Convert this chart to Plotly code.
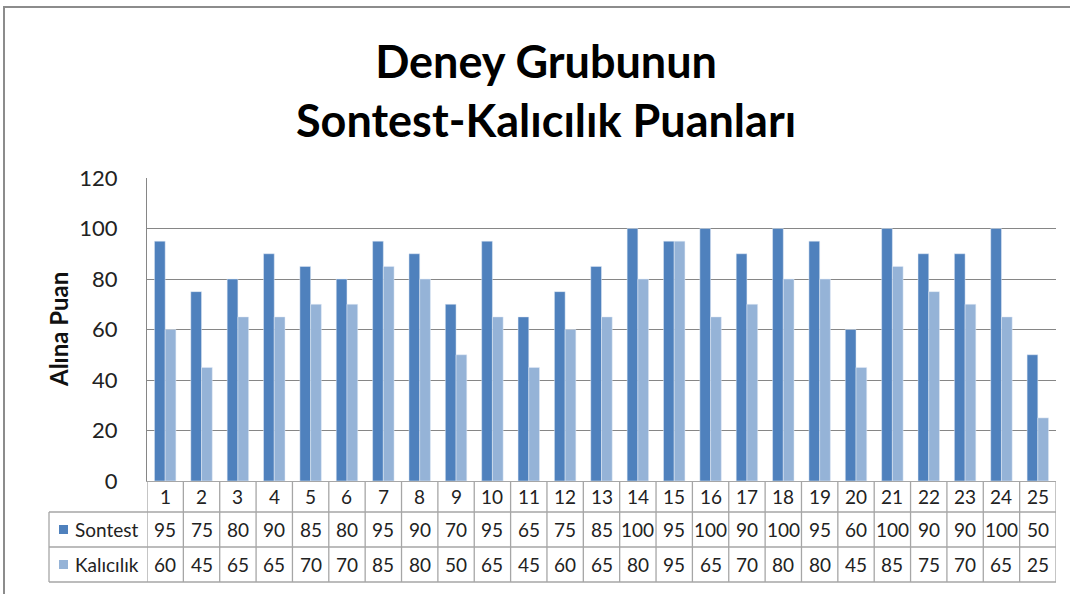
import plotly.graph_objects as go

categories = [str(i) for i in range(1, 26)]
sontest = [95, 75, 80, 90, 85, 80, 95, 90, 70, 95, 65, 75, 85, 100, 95, 100, 90, 100, 95, 60, 100, 90, 90, 100, 50]
kalicilik = [60, 45, 65, 65, 70, 70, 85, 80, 50, 65, 45, 60, 65, 80, 95, 65, 70, 80, 80, 45, 85, 75, 70, 65, 25]
series_names = ["Sontest", "Kalıcılık"]
y_ticks = [0, 20, 40, 60, 80, 100, 120]
title_text = "<b>Deney Grubunun<br>Sontest-Kalıcılık Puanları</b>"
y_title = "<b>Alına Puan</b>"

C1 = "#4F81BD"
C2 = "#95B3D7"
GRID = "#868686"
TBL = "#a6a6a6"
FONT = "Lato"

W, H = 1070, 594
L, R, T, B = 147, 14, 178, 113
PW, PH = W - L - R, H - T - B


def px(x):
    return (x - L) / PW


def py(y):
    return (H - B - y) / PH


fig = go.Figure()
fig.add_trace(go.Bar(x=categories, y=sontest, name=series_names[0], marker_color=C1))
fig.add_trace(go.Bar(x=categories, y=kalicilik, name=series_names[1], marker_color=C2))

shapes = []
annotations = []

row_tops = [py(481), py(512), py(547), py(582)]
# horizontal table lines
for yy in row_tops[1:]:
    shapes.append(dict(type="line", xref="paper", yref="paper", x0=px(49), x1=1, y0=yy, y1=yy,
                       line=dict(color=TBL, width=1.3)))
# left edge of legend column
shapes.append(dict(type="line", xref="paper", yref="paper", x0=px(49), x1=px(49), y0=row_tops[1], y1=row_tops[3],
                   line=dict(color=TBL, width=1.3)))
# vertical cell lines
n = len(categories)
for i in range(n + 1):
    shapes.append(dict(type="line", xref="x", yref="paper", x0=i - 0.5, x1=i - 0.5, y0=0, y1=row_tops[3],
                       line=dict(color=TBL, width=1.3)))

# table content
row_vals = [categories, sontest, kalicilik]
for r, vals in enumerate(row_vals):
    yc = (row_tops[r] + row_tops[r + 1]) / 2
    for i, v in enumerate(vals):
        annotations.append(dict(x=i, y=yc, xref="x", yref="paper", text=str(v), showarrow=False,
                                font=dict(family=FONT, size=19, color="#222"), xanchor="center", yanchor="middle"))

# legend keys in table
for r, (name, col) in enumerate(zip(series_names, [C1, C2])):
    yc = (row_tops[r + 1] + row_tops[r + 2]) / 2
    half = 4.5 / PH
    shapes.append(dict(type="rect", xref="paper", yref="paper", x0=px(59), x1=px(68), y0=yc - half, y1=yc + half,
                       fillcolor=col, line=dict(width=0)))
    annotations.append(dict(x=px(73), y=yc, xref="paper", yref="paper", text=name, showarrow=False,
                            font=dict(family=FONT, size=19, color="#222"), xanchor="left", yanchor="middle"))

# y-axis title
annotations.append(dict(x=px(58), y=py(330), xref="paper", yref="paper", text=y_title, showarrow=False,
                        textangle=-90, font=dict(family=FONT, size=24, color="#111"),
                        xanchor="center", yanchor="middle"))

# chart title
annotations.append(dict(x=px(546), y=py(90), xref="paper", yref="paper", text=title_text, showarrow=False,
                        font=dict(family=FONT, size=45, color="#000"), xanchor="center", yanchor="middle"))

# outer chart border
shapes.append(dict(type="path", xref="paper", yref="paper",
                   path=f"M {px(4)},{py(594)} L {px(4)},{py(7)} L {px(1070)},{py(7)}",
                   line=dict(color="#8c8c8c", width=2)))

fig.update_layout(
    width=W, height=H,
    margin=dict(l=L, r=R, t=T, b=B),
    paper_bgcolor="white", plot_bgcolor="white",
    barmode="group", bargap=0.41, bargroupgap=0,
    showlegend=False,
    shapes=shapes,
    annotations=annotations,
    font=dict(family=FONT),
)
fig.update_xaxes(type="category", showticklabels=False, showgrid=False, showline=True, linecolor=TBL,
                 linewidth=1.3, ticks="", range=[-0.5, n - 0.5])
fig.update_yaxes(range=[0, 120], tickvals=y_ticks, showgrid=True, gridcolor=GRID, gridwidth=1.3,
                 showline=True, linecolor=GRID, linewidth=1.3, zeroline=False, ticks="",
                 ticklabelstandoff=24, tickfont=dict(family=FONT, size=22, color="#222"))

fig.write_html("out.html", config={"displayModeBar": False},
               post_script="document.body.style.margin='0';document.body.style.overflow='hidden';")
